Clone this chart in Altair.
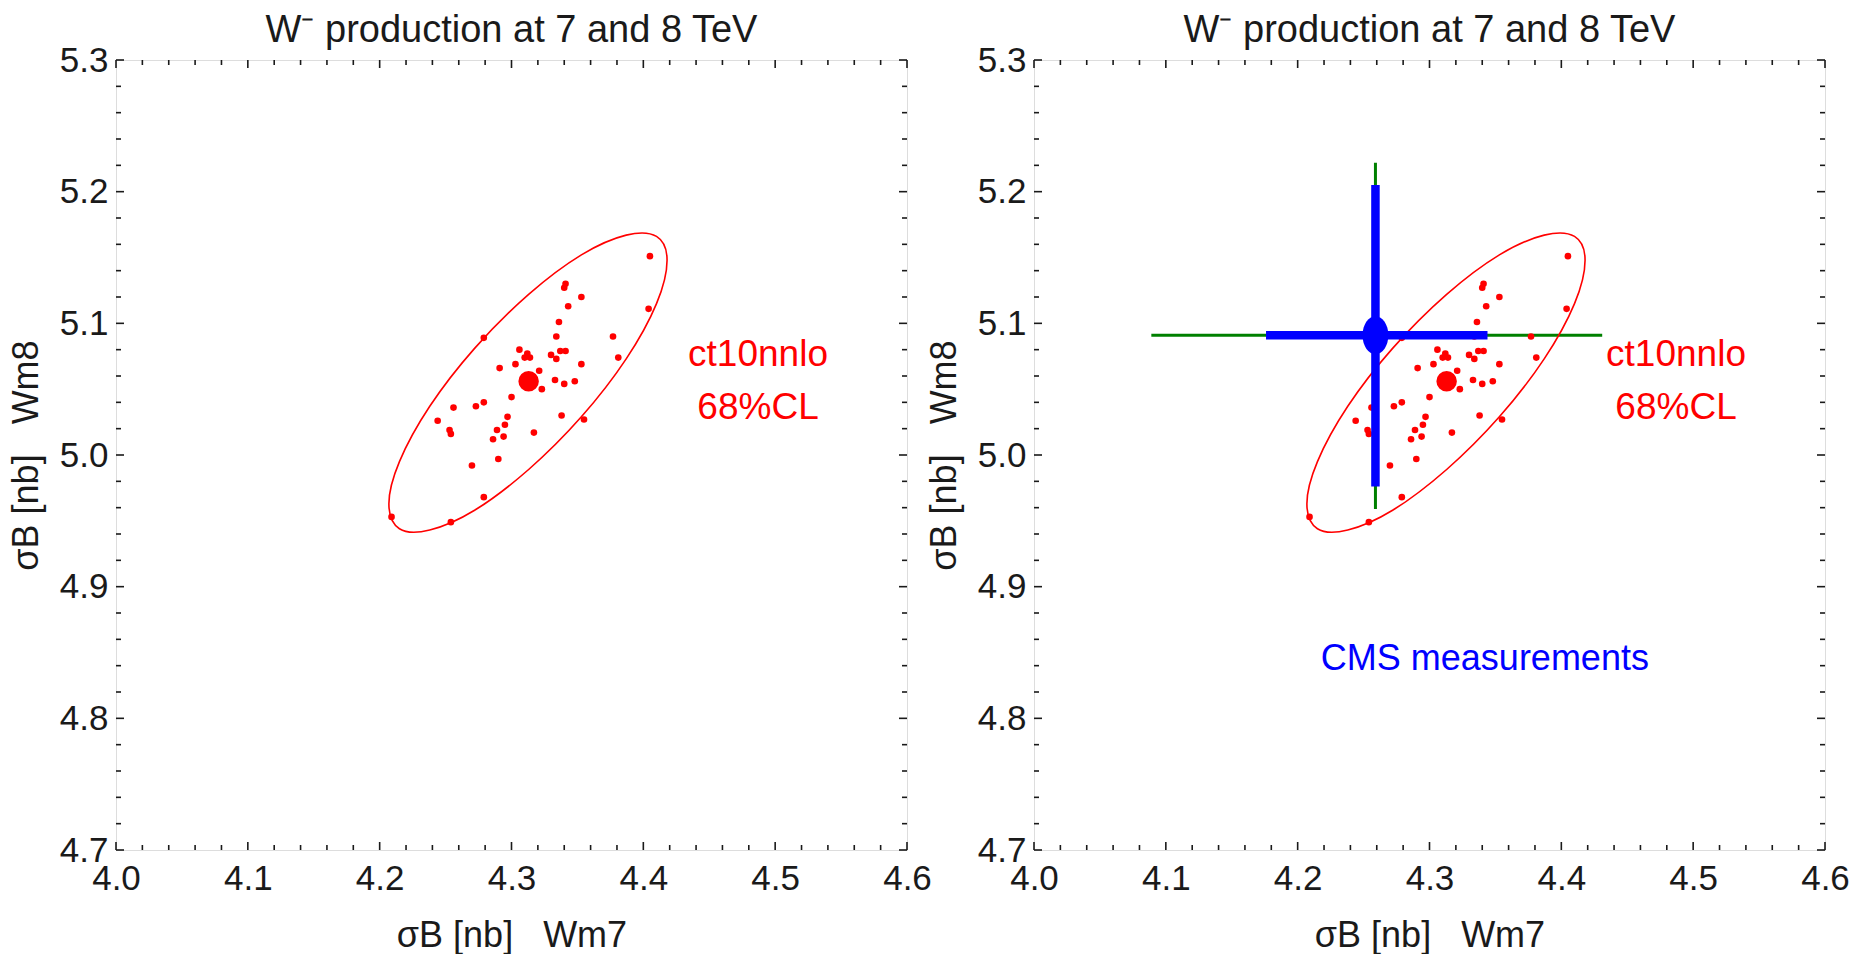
import altair as alt
import pandas as pd

# ---------------- data ----------------
X_MAJOR = [4.0, 4.1, 4.2, 4.3, 4.4, 4.5, 4.6]
X_MINOR = [4.02, 4.04, 4.06, 4.08, 4.12, 4.14, 4.16, 4.18, 4.22, 4.24, 4.26, 4.28,
           4.32, 4.34, 4.36, 4.38, 4.42, 4.44, 4.46, 4.48, 4.52, 4.54, 4.56, 4.58]
Y_MAJOR = [4.7, 4.8, 4.9, 5.0, 5.1, 5.2, 5.3]
Y_MINOR = [4.72, 4.74, 4.76, 4.78, 4.82, 4.84, 4.86, 4.88, 4.92, 4.94, 4.96, 4.98,
           5.02, 5.04, 5.06, 5.08, 5.12, 5.14, 5.16, 5.18, 5.22, 5.24, 5.26, 5.28]

# ct10nnlo error-PDF members (Wm7, Wm8)
PDF_X = [4.405, 4.341, 4.340, 4.353, 4.343, 4.336, 4.334, 4.377, 4.381, 4.404,
         4.279, 4.306, 4.312, 4.310, 4.314, 4.303, 4.330, 4.334, 4.337, 4.341,
         4.353, 4.291, 4.321, 4.333, 4.340, 4.348, 4.323, 4.300, 4.279, 4.273,
         4.256, 4.244, 4.253, 4.254, 4.297, 4.295, 4.289, 4.294, 4.286, 4.317,
         4.338, 4.355, 4.270, 4.290, 4.279, 4.254, 4.209]
PDF_Y = [5.151, 5.130, 5.127, 5.120, 5.113, 5.101, 5.090, 5.090, 5.074, 5.111,
         5.089, 5.080, 5.077, 5.074, 5.074, 5.069, 5.076, 5.073, 5.079, 5.079,
         5.069, 5.066, 5.064, 5.057, 5.054, 5.056, 5.050, 5.044, 5.040, 5.037,
         5.036, 5.026, 5.019, 5.016, 5.029, 5.023, 5.019, 5.014, 5.012, 5.017,
         5.030, 5.027, 4.992, 4.997, 4.968, 4.949, 4.953]
CENTRAL_X = [4.313]
CENTRAL_Y = [5.056]

# 68% CL contour
ELL_X = [4.418, 4.410, 4.387, 4.353, 4.313, 4.272, 4.238, 4.215,
         4.207, 4.215, 4.238, 4.272, 4.313, 4.353, 4.387, 4.410]
ELL_Y = [5.148, 5.166, 5.167, 5.152, 5.122, 5.081, 5.037, 4.995,
         4.963, 4.944, 4.943, 4.958, 4.989, 5.029, 5.073, 5.115]

# CMS measurement: central value, inner (blue) and outer (green) errors
CMS_X = [4.259]
CMS_Y = [5.091]
CMS_INNER_X = [4.176, 4.344]
CMS_INNER_Y = [4.976, 5.205]
CMS_OUTER_X = [4.089, 4.431]
CMS_OUTER_Y = [4.959, 5.222]

LABEL_X = [4.487, 4.487]
LABEL_Y = [5.076, 5.036]
LABEL_TEXT = ["ct10nnlo", "68%CL"]
CMS_LABEL = ["CMS measurements"]
CMS_LABEL_X = [4.342]
CMS_LABEL_Y = [4.845]

NB = "\u00a0"
TITLE = "W\u207b production at 7 and 8 TeV"
XTITLE = "\u03c3B [nb]" + NB * 3 + "Wm7"
YTITLE = "\u03c3B [nb]" + NB * 3 + "Wm8"

# ---------------- chart ----------------
W, H = 791, 790
FONT = "Liberation Sans"
RED, BLUE, GREEN = "#ff0000", "#0000ff", "#008000"
INK = "#1a1a1a"

xs = alt.Scale(domain=[4.0, 4.6], nice=False, zero=False)
ys = alt.Scale(domain=[4.7, 5.3], nice=False, zero=False)

x_axis = alt.Axis(values=X_MAJOR, format=".1f", ticks=False, tickSize=0, domain=False,
                  grid=False, labelFontSize=35, labelFont=FONT, labelColor=INK,
                  labelPadding=11, title=XTITLE, titleFont=FONT, titleFontSize=36,
                  titleFontWeight="normal", titleColor=INK, titlePadding=22,
                  labelFlush=False)
y_axis = alt.Axis(values=Y_MAJOR, format=".1f", ticks=False, tickSize=0, domain=False,
                  grid=False, labelFontSize=35, labelFont=FONT, labelColor=INK,
                  labelPadding=8, title=YTITLE, titleFont=FONT, titleFontSize=36,
                  titleFontWeight="normal", titleColor=INK, titlePadding=14,
                  labelFlush=False)

pdf_df = pd.DataFrame({"x": PDF_X, "y": PDF_Y})
cen_df = pd.DataFrame({"x": CENTRAL_X, "y": CENTRAL_Y})
ell_df = pd.DataFrame({"x": ELL_X, "y": ELL_Y, "o": list(range(len(ELL_X)))})
lab_df = pd.DataFrame({"x": LABEL_X, "y": LABEL_Y, "t": LABEL_TEXT})
xmaj = pd.DataFrame({"v": X_MAJOR})
xmin = pd.DataFrame({"v": X_MINOR})
ymaj = pd.DataFrame({"v": Y_MAJOR})
ymin = pd.DataFrame({"v": Y_MINOR})


def ticks():
    layers = []
    for df, ln in ((xmaj, 8), (xmin, 5)):
        base = alt.Chart(df).mark_rule(color=INK, strokeWidth=1.6)
        layers.append(base.encode(x=alt.X("v:Q", scale=xs, axis=x_axis),
                                  y=alt.value(H), y2=alt.value(H - ln)))
        layers.append(base.encode(x=alt.X("v:Q", scale=xs),
                                  y=alt.value(0), y2=alt.value(ln)))
    for df, ln in ((ymaj, 8), (ymin, 5)):
        base = alt.Chart(df).mark_rule(color=INK, strokeWidth=1.6)
        layers.append(base.encode(y=alt.Y("v:Q", scale=ys, axis=y_axis),
                                  x=alt.value(0), x2=alt.value(ln)))
        layers.append(base.encode(y=alt.Y("v:Q", scale=ys),
                                  x=alt.value(W), x2=alt.value(W - ln)))
    return layers


def theory_layers():
    ell = alt.Chart(ell_df).mark_line(color=RED, strokeWidth=1.6,
                                      interpolate="cardinal-closed").encode(
        x=alt.X("x:Q", scale=xs), y=alt.Y("y:Q", scale=ys), order="o:Q")
    pts = alt.Chart(pdf_df).mark_circle(color=RED, opacity=1, size=44).encode(
        x=alt.X("x:Q", scale=xs), y=alt.Y("y:Q", scale=ys))
    cen = alt.Chart(cen_df).mark_circle(color=RED, opacity=1, size=420).encode(
        x=alt.X("x:Q", scale=xs), y=alt.Y("y:Q", scale=ys))
    lab = alt.Chart(lab_df).mark_text(color=RED, font=FONT, fontSize=37).encode(
        x=alt.X("x:Q", scale=xs), y=alt.Y("y:Q", scale=ys), text="t:N")
    return [ell, pts, cen, lab]


def cms_layers():
    hdf_o = pd.DataFrame({"x": [CMS_OUTER_X[0]], "x2": [CMS_OUTER_X[1]], "y": CMS_Y})
    vdf_o = pd.DataFrame({"y": [CMS_OUTER_Y[0]], "y2": [CMS_OUTER_Y[1]], "x": CMS_X})
    h = alt.Chart(hdf_o).mark_rule(color=GREEN, strokeWidth=3).encode(
        x=alt.X("x:Q", scale=xs), x2="x2:Q", y=alt.Y("y:Q", scale=ys))
    v = alt.Chart(vdf_o).mark_rule(color=GREEN, strokeWidth=3).encode(
        x=alt.X("x:Q", scale=xs), y=alt.Y("y:Q", scale=ys), y2="y2:Q")
    return [h, v]


def cms_top():
    hdf_i = pd.DataFrame({"x": [CMS_INNER_X[0]], "x2": [CMS_INNER_X[1]], "y": CMS_Y})
    vdf_i = pd.DataFrame({"y": [CMS_INNER_Y[0]], "y2": [CMS_INNER_Y[1]], "x": CMS_X})
    h = alt.Chart(hdf_i).mark_rule(color=BLUE, strokeWidth=8.5).encode(
        x=alt.X("x:Q", scale=xs), x2="x2:Q", y=alt.Y("y:Q", scale=ys))
    v = alt.Chart(vdf_i).mark_rule(color=BLUE, strokeWidth=8.5).encode(
        x=alt.X("x:Q", scale=xs), y=alt.Y("y:Q", scale=ys), y2="y2:Q")
    c = alt.Chart(pd.DataFrame({"x": CMS_X, "y": CMS_Y})).mark_point(
        shape="M -0.68 0 A 0.68 1 0 1 0 0.68 0 A 0.68 1 0 1 0 -0.68 0 Z",
        filled=True, color=BLUE, opacity=1, size=1444).encode(
        x=alt.X("x:Q", scale=xs), y=alt.Y("y:Q", scale=ys))
    t = alt.Chart(pd.DataFrame({"x": CMS_LABEL_X, "y": CMS_LABEL_Y, "t": CMS_LABEL})).mark_text(
        color=BLUE, font=FONT, fontSize=36).encode(
        x=alt.X("x:Q", scale=xs), y=alt.Y("y:Q", scale=ys), text="t:N")
    return [h, v, c, t]


title = alt.TitleParams(TITLE, font=FONT, fontSize=38, fontWeight="normal",
                        color=INK, anchor="middle", offset=-7)

left = alt.layer(*theory_layers(), *ticks()).properties(width=W, height=H, title=title)
right = alt.layer(*cms_layers(), *theory_layers(), *cms_top(), *ticks()).properties(
    width=W, height=H, title=title)

chart = alt.hconcat(left, right, spacing=127, bounds="flush").properties(
    padding={"left": 7, "top": 11, "right": 0, "bottom": 0}
).configure_view(stroke=INK, strokeWidth=2).configure(background="white")

chart.save("out.html", embed_options={"renderer": "svg", "actions": False})
